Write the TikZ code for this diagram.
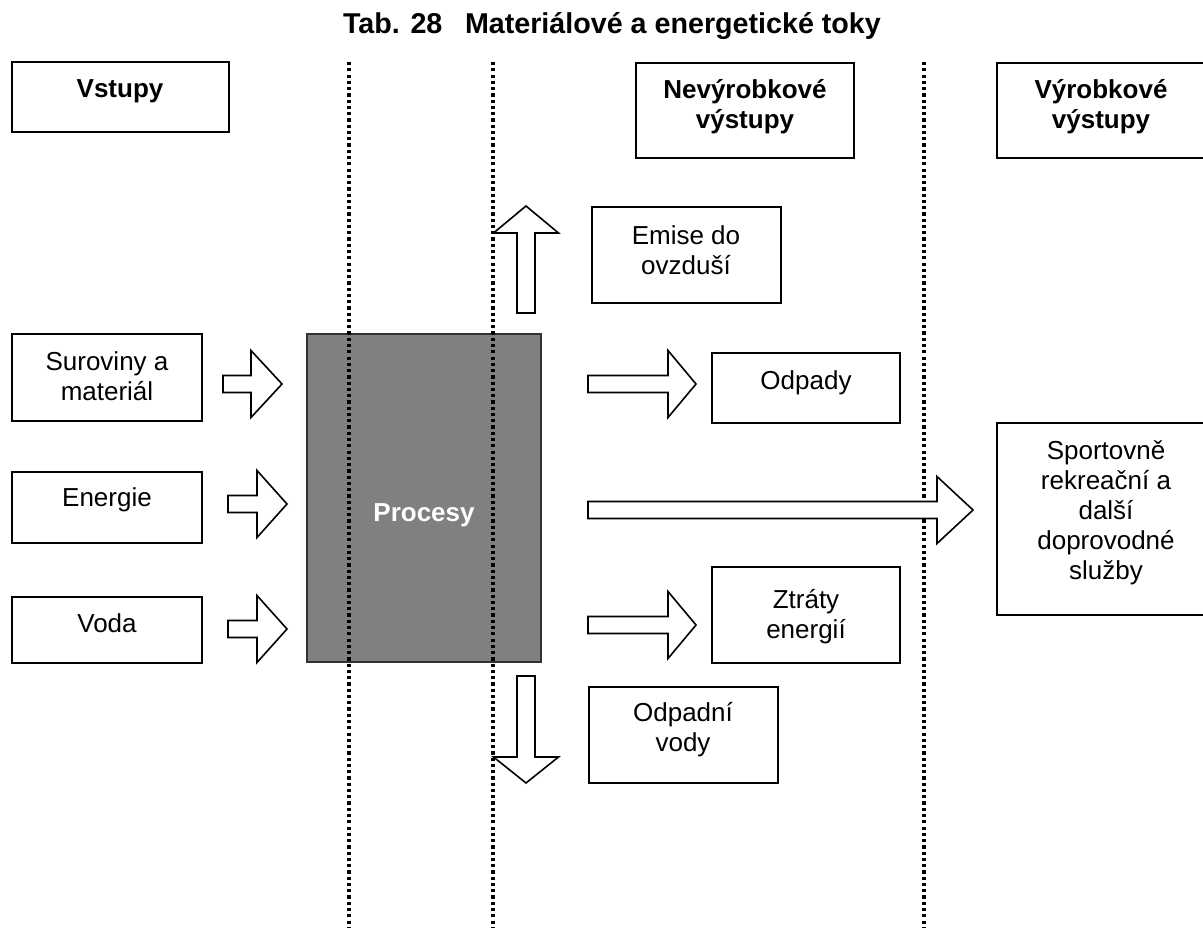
\documentclass[tikz,border=0pt]{standalone}
\usepackage{fontspec}
\setmainfont{Liberation Sans}
\usetikzlibrary{fit}
\newcommand{\blockR}[5]{% name, x0, xb, xt, yc
  \draw[blockarrow] (#2,#5-8.5) -- (#3,#5-8.5) -- (#3,#5-33.5) -- (#4,#5) coordinate (#1tip) -- (#3,#5+33.5) -- (#3,#5+8.5) -- (#2,#5+8.5) -- cycle;}
\newcommand{\blockV}[5]{% name, y0, yb, yt, xc
  \draw[blockarrow] (#5-9,#2) -- (#5-9,#3) -- (#5-32.5,#3) -- (#5,#4) coordinate (#1tip) -- (#5+32.5,#3) -- (#5+9,#3) -- (#5+9,#2) -- cycle;}
\begin{document}
\begin{tikzpicture}[x=0.75pt,y=-0.75pt,
  box/.style={draw, line width=1.5pt, inner sep=0pt, fill=white},
  txt/.style={align=center, inner sep=0pt, font=\fontsize{19.5pt}{22.5pt}\selectfont},
  btxt/.style={txt, font=\fontsize{19.5pt}{22.5pt}\selectfont\bfseries},
  sep/.style={line width=2.5pt, dash pattern=on 2.4pt off 2.3pt},
  blockarrow/.style={draw, fill=white, line width=1.2pt, line join=miter},
  proc/.style={draw=black!80, fill=black!50, line width=1.5pt, inner sep=0pt}]
\useasboundingbox (0,0) rectangle (1203,928);
% title
\node[inner sep=0pt, font=\fontsize{21.5pt}{25pt}\selectfont\bfseries] (title) at (612,26) {Tab. 28\hspace{11pt} Materiálové a energetické toky};
% header boxes
\node[box, fit={(12,62) (229,132)}] (vstupyb) {};
\node[btxt] (vstupy) at (120,91) {Vstupy};
\node[box, fit={(636,63) (854,158)}] (nevb) {};
\node[btxt] (nev) at (745,107) {Nevýrobkové\\výstupy};
\node[box, fit={(997,63) (1215,158)}] (vyrb) {};
\node[btxt] (vyr) at (1101,107) {Výrobkové\\výstupy};
% input boxes
\node[box, fit={(12,334) (202,421)}] (surb) {};
\node[txt] (sur) at (107,376) {Suroviny a\\materiál};
\node[box, fit={(12,472) (202,543)}] (enb) {};
\node[txt] (en) at (107,500) {Energie};
\node[box, fit={(12,597) (202,663)}] (vodab) {};
\node[txt] (voda) at (107,623) {Voda};
% process
\node[proc, fit={(307,334) (541,662)}] (procb) {};
\node[btxt, text=white] (proc) at (424,515) {Procesy};
% separators
\draw[sep] (349,62) coordinate (s1a) -- (349,928) coordinate (s1b);
\draw[sep] (493,62) coordinate (s2a) -- (493,928) coordinate (s2b);
\draw[sep] (924,62) coordinate (s3a) -- (924,928) coordinate (s3b);
% output boxes
\node[box, fit={(592,207) (781,303)}] (emb) {};
\node[txt] (em) at (686,250) {Emise do\\ovzduší};
\node[box, fit={(712,353) (900,423)}] (odb) {};
\node[txt] (od) at (806,383) {Odpady};
\node[box, fit={(712,567) (900,663)}] (ztb) {};
\node[txt] (zt) at (806,617) {Ztráty\\energií};
\node[box, fit={(589,687) (778,783)}] (ovb) {};
\node[txt] (ov) at (683,730) {Odpadní\\vody};
\node[box, fit={(997,423) (1215,615)}] (spb) {};
\node[txt] (sp) at (1106,513) {Sportovně\\rekreační a\\další\\doprovodné\\služby};
% block arrows
\blockR{a1}{223}{251}{282}{384}
\blockR{a2}{228}{257}{287}{504}
\blockR{a3}{228}{257}{287}{629}
\blockR{a4}{588}{668}{696}{384}
\blockR{a5}{588}{937}{973}{510}
\blockR{a6}{588}{668}{696}{625}
\blockV{a7}{313}{233}{206}{526}
\blockV{a8}{676}{757}{783}{526}
\end{tikzpicture}
\end{document}
